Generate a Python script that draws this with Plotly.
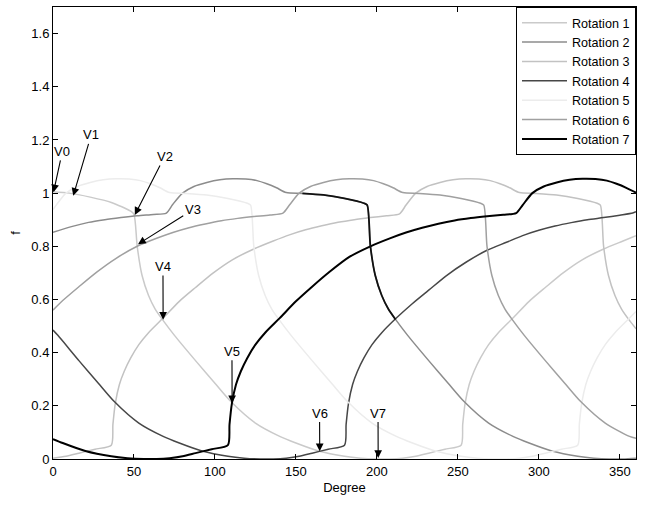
import plotly.graph_objects as go

# values (degree, f)
rot1_x = [0, 10, 23, 36, 48, 50, 52, 55, 59, 63, 67.5, 75, 88, 100, 110, 125, 140, 150, 164, 180, 190, 200, 208,
          216, 224, 232, 242, 252, 253, 254.5, 257, 260, 264, 269, 275, 284, 294, 304, 315, 327, 340, 352, 360]
rot1_y = [1.005, 1.0, 0.985, 0.965, 0.932, 0.92, 0.80, 0.69, 0.615, 0.565, 0.525, 0.465, 0.37, 0.285, 0.215,
          0.135, 0.085, 0.06, 0.03, 0.01, 0.003, 0.0, 0.0, 0.003, 0.01, 0.022, 0.037, 0.052, 0.13, 0.21, 0.28,
          0.33, 0.38, 0.43, 0.475, 0.53, 0.593, 0.645, 0.70, 0.75, 0.79, 0.82, 0.84]

rot2_x = [0, 12, 22, 32, 42, 52, 62, 70, 74, 80, 87, 95, 103, 111, 119, 126, 132, 138, 144, 154, 167, 180, 192,
          194, 196, 199, 203, 207, 211.5, 219, 232, 244, 254, 269, 284, 294, 308, 324, 334, 344, 352, 360]
rot2_y = [0.853, 0.875, 0.89, 0.90, 0.908, 0.915, 0.92, 0.925, 0.958, 1.0, 1.025, 1.04, 1.05, 1.054, 1.053,
          1.047, 1.035, 1.02, 1.002, 0.999, 0.993, 0.98, 0.962, 0.955, 0.80, 0.69, 0.615, 0.565, 0.525, 0.465,
          0.37, 0.285, 0.215, 0.135, 0.085, 0.06, 0.03, 0.01, 0.003, 0.0, 0.0, 0.003]

rot3_x = [0, 8, 16, 26, 36, 37, 38.5, 41, 44, 48, 53, 59, 68, 78, 88, 99, 111, 124, 136, 146, 156, 166, 176,
          186, 196, 206, 214, 218, 224, 231, 239, 247, 255, 263, 270, 276, 282, 288, 298, 311, 324, 336, 338,
          340, 343, 347, 351, 355.5, 360]
rot3_y = [0.003, 0.01, 0.022, 0.037, 0.052, 0.13, 0.21, 0.28, 0.33, 0.38, 0.43, 0.475, 0.53, 0.593, 0.645,
          0.70, 0.75, 0.79, 0.82, 0.843, 0.862, 0.877, 0.89, 0.90, 0.908, 0.915, 0.922, 0.955, 1.0, 1.025,
          1.04, 1.05, 1.054, 1.053, 1.047, 1.035, 1.02, 1.002, 0.999, 0.993, 0.98, 0.962, 0.955, 0.80, 0.69,
          0.615, 0.565, 0.525, 0.49]

rot4_x = [0, 3, 16, 28, 38, 53, 68, 78, 92, 108, 118, 128, 136, 144, 152, 160, 170, 180, 181, 182.5, 185, 188,
          192, 197, 203, 212, 222, 232, 243, 255, 268, 280, 290, 300, 310, 320, 330, 340, 350, 358, 360]
rot4_y = [0.485, 0.465, 0.37, 0.285, 0.215, 0.135, 0.085, 0.06, 0.03, 0.01, 0.003, 0.0, 0.0, 0.003, 0.01,
          0.022, 0.037, 0.052, 0.13, 0.21, 0.28, 0.33, 0.38, 0.43, 0.475, 0.53, 0.585, 0.635, 0.69, 0.74,
          0.785, 0.815, 0.84, 0.86, 0.876, 0.889, 0.90, 0.908, 0.917, 0.925, 0.93]

rot5_x = [0, 2, 8, 15, 23, 31, 39, 47, 54, 60, 66, 72, 82, 95, 108, 120, 122, 124, 127, 131, 135, 139.5, 147,
          160, 172, 182, 197, 212, 222, 236, 252, 262, 272, 280, 288, 296, 304, 314, 324, 325, 326.5, 329, 332,
          336, 341, 347, 356, 360]
rot5_y = [0.938, 0.955, 1.0, 1.025, 1.04, 1.05, 1.054, 1.053, 1.047, 1.035, 1.02, 1.002, 0.999, 0.993, 0.98,
          0.962, 0.955, 0.80, 0.69, 0.615, 0.565, 0.525, 0.465, 0.37, 0.285, 0.215, 0.135, 0.085, 0.06, 0.03,
          0.01, 0.003, 0.0, 0.0, 0.003, 0.01, 0.022, 0.037, 0.052, 0.13, 0.21, 0.28, 0.33, 0.38, 0.43, 0.475,
          0.53, 0.555]

rot6_x = [0, 6, 16, 27, 39, 52, 64, 74, 84, 94, 104, 114, 124, 134, 142, 146, 152, 159, 167, 175, 183, 191,
          198, 204, 210, 216, 226, 239, 252, 264, 266, 268, 271, 275, 279, 283.5, 291, 304, 316, 326, 341, 356,
          360]
rot6_y = [0.56, 0.596, 0.648, 0.703, 0.755, 0.80, 0.83, 0.852, 0.87, 0.884, 0.896, 0.905, 0.912, 0.918,
          0.925, 0.955, 1.0, 1.025, 1.04, 1.05, 1.054, 1.053, 1.047, 1.035, 1.02, 1.002, 0.999, 0.993, 0.98,
          0.962, 0.955, 0.80, 0.69, 0.615, 0.565, 0.525, 0.465, 0.37, 0.285, 0.215, 0.135, 0.085, 0.078]

rot7_x = [0, 6, 20, 36, 46, 56, 64, 72, 80, 88, 98, 108, 109, 110.5, 113, 116, 120, 125, 131, 140, 150, 160,
          171, 183, 196, 208, 218, 228, 238, 248, 258, 268, 278, 286, 290, 296, 303, 311, 319, 327, 335, 342,
          348, 354, 360]
rot7_y = [0.075, 0.06, 0.03, 0.01, 0.003, 0.0, 0.0, 0.003, 0.01, 0.022, 0.037, 0.052, 0.13, 0.21, 0.28, 0.33,
          0.38, 0.43, 0.475, 0.53, 0.593, 0.648, 0.705, 0.76, 0.80, 0.83, 0.852, 0.87, 0.885, 0.897, 0.906,
          0.913, 0.919, 0.925, 0.955, 1.0, 1.025, 1.04, 1.05, 1.054, 1.053, 1.047, 1.035, 1.02, 1.002]

# part of the rotation 2 path that is drawn black in the picture
dark_x = [154, 167, 180, 192, 194, 196, 199, 203, 207, 211.5]
dark_y = [0.999, 0.993, 0.98, 0.962, 0.955, 0.80, 0.69, 0.615, 0.565, 0.525]

# marked points V0..V7: arrow tip and label position
v_labels = ['V0', 'V1', 'V2', 'V3', 'V4', 'V5', 'V6', 'V7']
v_tip_x = [0.3, 12.5, 50.5, 52.5, 68, 110.6, 164.7, 200.8]
v_tip_y = [1.003, 0.99, 0.918, 0.808, 0.524, 0.21, 0.029, 0.004]
v_txt_x = [5.8, 23.6, 68.9, 86.3, 67.9, 110.5, 164.6, 200.7]
v_txt_y = [1.157, 1.219, 1.138, 0.937, 0.724, 0.405, 0.173, 0.173]

series = [
    ('Rotation 1', rot1_x, rot1_y, '#cacaca', 1.5),
    ('Rotation 2', rot2_x, rot2_y, '#8c8c8c', 1.5),
    ('Rotation 3', rot3_x, rot3_y, '#c2c2c2', 1.5),
    ('Rotation 4', rot4_x, rot4_y, '#474747', 1.5),
    ('Rotation 5', rot5_x, rot5_y, '#ececec', 1.5),
    ('Rotation 6', rot6_x, rot6_y, '#a0a0a0', 1.5),
    ('Rotation 7', rot7_x, rot7_y, '#000000', 2),
]

FONT = 'Liberation Sans, Arial, sans-serif'

fig = go.Figure()
for name, xs, ys, color, width in series:
    fig.add_trace(go.Scatter(x=xs, y=ys, mode='lines', name=name,
                             line=dict(color=color, width=width, shape='spline', smoothing=0.7)))
fig.add_trace(go.Scatter(x=dark_x, y=dark_y, mode='lines', showlegend=False,
                         line=dict(color='#111111', width=1.8, shape='spline', smoothing=0.7)))

for lab, tx, ty, ax, ay in zip(v_labels, v_tip_x, v_tip_y, v_txt_x, v_txt_y):
    fig.add_annotation(x=tx, y=ty, ax=ax, ay=ay, axref='x', ayref='y', text=lab,
                       showarrow=True, arrowhead=2, arrowsize=1.4, arrowwidth=1.1,
                       arrowcolor='black', font=dict(size=13, color='black', family=FONT))

axis_style = dict(showline=True, linecolor='black', linewidth=1, mirror='ticks', ticks='inside',
                  ticklen=5, tickcolor='black', showgrid=False, zeroline=False, automargin=False,
                  tickfont=dict(size=13, color='black', family=FONT))

fig.update_layout(
    width=645, height=505,
    margin=dict(l=53, r=9, t=7, b=46),
    paper_bgcolor='white', plot_bgcolor='white',
    font=dict(family=FONT, size=13, color='black'),
    xaxis=dict(range=[0, 360], tickvals=[0, 50, 100, 150, 200, 250, 300, 350],
               title=dict(text='Degree', standoff=5, font=dict(size=13)), **axis_style),
    yaxis=dict(range=[0, 1.7], tickvals=[0, 0.2, 0.4, 0.6, 0.8, 1, 1.2, 1.4, 1.6],
               title=dict(text='f', standoff=7, font=dict(size=13)), **axis_style),
    legend=dict(x=1, y=1, xanchor='right', yanchor='top', bgcolor='white',
                bordercolor='black', borderwidth=1, font=dict(size=12.6), tracegroupgap=0,
                itemwidth=45),
    showlegend=True,
)

fig.write_html("out.html", config={'displayModeBar': False},
               post_script="document.body.style.margin='0';")
